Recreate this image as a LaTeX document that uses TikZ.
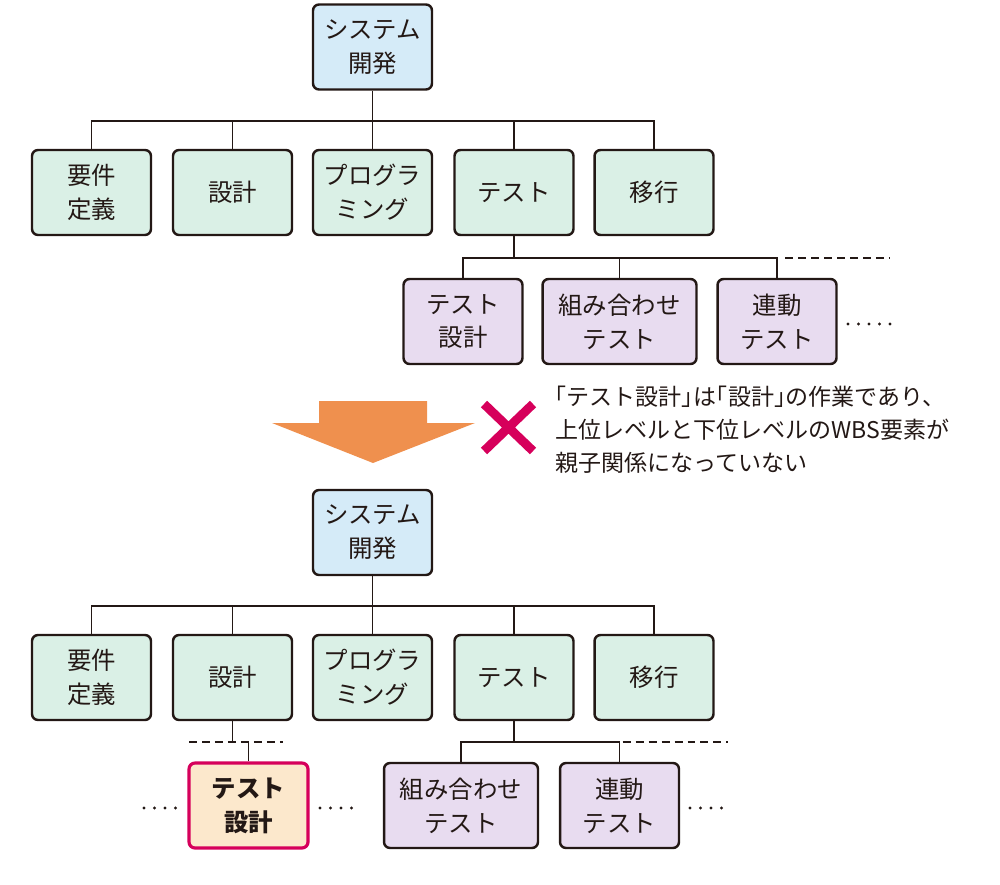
\documentclass[tikz,border=0pt]{standalone}
\usepackage{fontspec}
\setmainfont{Noto Sans CJK JP}
\usepackage{tikz}
\usetikzlibrary{shapes,arrows,positioning,calc}

\definecolor{wbsline}{HTML}{231815}
\definecolor{rootblue}{HTML}{D5EBF8}
\definecolor{phasegreen}{HTML}{DAF0E6}
\definecolor{taskpurple}{HTML}{E8DCF0}
\definecolor{focusfill}{HTML}{FCE8CC}
\definecolor{ngred}{HTML}{D6005B}
\definecolor{downorange}{HTML}{EF904E}

\newcommand{\boxfont}{\fontsize{13.9pt}{19.3pt}\selectfont}
\newcommand{\notefont}{\fontsize{13.1pt}{18.8pt}\selectfont}
\newcommand{\openq}{\kern-0.5em「}
\newcommand{\closeq}{」\kern-0.5em}

\begin{document}
\begin{tikzpicture}[x=0.02cm,y=-0.02cm,auto]
%\draw[gray,very thin] (0,0) grid[step=50] (1000,885);
\useasboundingbox (0,0) rectangle (1000,885);
\tikzstyle{block} = [draw=wbsline, shape=rectangle, rounded corners=0.12cm, minimum height=1.7cm, minimum width=2.38cm, line width=1.4pt, align=center, font=\boxfont, text=wbsline, inner sep=1pt]
\tikzstyle{rootbox} = [block, fill=rootblue]
\tikzstyle{phase} = [block, fill=phasegreen]
\tikzstyle{task} = [block, fill=taskpurple]
\tikzstyle{widebox} = [minimum width=3.08cm]
\tikzstyle{focus} = [block, draw=ngred, fill=focusfill, line width=1.8pt, font=\boxfont\bfseries]
\tikzstyle{more} = [dashed, dash pattern=on 0.16cm off 0.1cm]
\tikzstyle{dots} = [line width=1.8pt, line cap=round, dash pattern=on 0pt off 0.21cm]
%Creating Blocks and Connection Nodes (before)
\node at (372.5,47) [rootbox] (root1) {システム\\開発};
\node at (91.5,192.5) [phase] (req1) {要件\\定義};
\node at (232.5,192.5) [phase] (des1) {設計};
\node at (372.5,192.5) [phase] (prg1) {プログラ\\ミング};
\node at (514,192.5) [phase] (tst1) {テスト};
\node at (654,192.5) [phase] (mig1) {移行};
\node at (463,321.5) [task] (tdes1) {テスト\\設計};
\node at (619.5,321.5) [task,widebox] (comb1) {組み合わせ\\テスト};
\node at (777,321.5) [task] (link1) {連動\\テスト};
\coordinate (bus1) at (372.5,121);
\coordinate (bus2) at (514,258);
\coordinate (more1) at (890,258);
%Creating Blocks and Connection Nodes (after)
\node at (372.5,532.5) [rootbox] (root2) {システム\\開発};
\node at (91.5,677.5) [phase] (req2) {要件\\定義};
\node at (232.5,677.5) [phase] (des2) {設計};
\node at (372.5,677.5) [phase] (prg2) {プログラ\\ミング};
\node at (514,677.5) [phase] (tst2) {テスト};
\node at (654,677.5) [phase] (mig2) {移行};
\node at (248.5,805.5) [focus] (tdes2) {テスト\\設計};
\node at (461,805.5) [task,widebox] (comb2) {組み合わせ\\テスト};
\node at (619.5,805.5) [task] (link2) {連動\\テスト};
\coordinate (bus3) at (372.5,606);
\coordinate (bus4) at (232.5,742);
\coordinate (bus5) at (514,742);
\begin{scope}[line width = 1.1pt, draw=wbsline]
\draw (root1) -- (bus1);
\foreach \n in {req1,des1,prg1,tst1,mig1} \draw (\n.north) |- (bus1);
\draw (tst1) -- (bus2);
\foreach \n in {tdes1,comb1,link1} \draw (\n.north) |- (bus2);
\draw[more] ($(link1.north |- bus2)+(8,0)$) -- (more1);
\draw (root2) -- (bus3);
\foreach \n in {req2,des2,prg2,tst2,mig2} \draw (\n.north) |- (bus3);
\draw (des2) -- (bus4);
\draw[more] (189,742) -- (283,742);
\draw (tdes2.north) -- (tdes2.north |- bus4);
\draw (tst2) -- (bus5);
\foreach \n in {comb2,link2} \draw (\n.north) |- (bus5);
\draw[more] ($(link2.north |- bus5)+(3,0)$) -- (728,742);
\end{scope}
%dots
\draw[dots,wbsline] (848,324) -- (891,324);
\draw[dots,wbsline] (144,808) -- (177,808);
\draw[dots,wbsline] (320,808) -- (353,808);
\draw[dots,wbsline] (690,808) -- (723,808);
%arrow and mark
\fill[downorange] (319,401) -- (427,401) -- (427,423) -- (475,423) -- (373,463) -- (272,423) -- (319,423) -- cycle;
\draw[ngred, line width=0.18cm] (484,404) -- (533,451) (533,404) -- (484,451);
\node at (555,386) [anchor=north west, align=left, inner sep=0pt, font=\notefont, text=wbsline] (note) {\openq テスト設計\closeq は\openq 設計\closeq の作業であり、\\上位レベルと下位レベルのWBS要素が\\親子関係になっていない};
\end{tikzpicture}
\end{document}
